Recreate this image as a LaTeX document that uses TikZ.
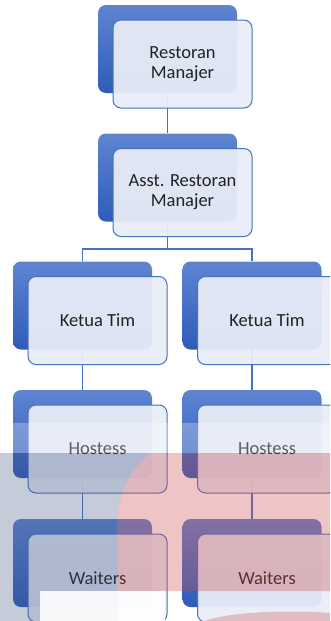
\documentclass[tikz,border=0pt]{standalone}
\usepackage{fontspec}
\setmainfont{Carlito}
\usetikzlibrary{calc}
\definecolor{darkTop}{HTML}{5F84D2}
\definecolor{darkBot}{HTML}{2E5CB9}
\definecolor{boxBlue}{HTML}{4472C4}
\definecolor{lightFill}{HTML}{E9EDF7}
\definecolor{textCol}{HTML}{222222}
\definecolor{grayOv}{HTML}{3F527D}
\definecolor{pinkOv}{HTML}{CB4C4C}
\pgfdeclarelayer{background}
\pgfsetlayers{background,main}
\begin{document}
\begin{tikzpicture}[x=1pt,y=-1pt,
  backbox/.style={rectangle, rounded corners=8pt, minimum width=139pt, minimum height=88pt, inner sep=0pt, top color=darkTop, bottom color=darkBot, draw=none},
  frontbox/.style={rectangle, rounded corners=8pt, minimum width=139pt, minimum height=88pt, inner sep=0pt, fill=lightFill, fill opacity=0.94, text opacity=1, draw=boxBlue, line width=1pt, align=center, text=textCol, font=\fontsize{18.5}{20}\selectfont},
  link/.style={draw=boxBlue, line width=1.2pt}]
\useasboundingbox (0,0) rectangle (330,621);
\clip (0,0) rectangle (330,621);
% back boxes
\node[backbox] (d1) at (167.5,49) {};
\node[backbox] (d2) at (167.5,177.5) {};
\node[backbox] (d3) at (82.5,305.5) {};
\node[backbox] (d4) at (252,305.5) {};
\node[backbox] (d5) at (82.5,434) {};
\node[backbox] (d6) at (252,434) {};
\node[backbox] (d7) at (82.5,563) {};
\node[backbox] (d8) at (252,563) {};
% front boxes
\node[frontbox] (f1) at ($(d1)+(15,15)$) {Restoran\\Manajer};
\node[frontbox] (f2) at ($(d2)+(15,15)$) {Asst. Restoran\\Manajer};
\node[frontbox] (f3) at ($(d3)+(15,15)$) {Ketua Tim};
\node[frontbox] (f4) at ($(d4)+(15,15)$) {Ketua Tim};
\node[frontbox] (f5) at ($(d5)+(15,15)$) {Hostess};
\node[frontbox] (f6) at ($(d6)+(15,15)$) {Hostess};
\node[frontbox] (f7) at ($(d7)+(15,15)$) {Waiters};
\node[frontbox] (f8) at ($(d8)+(15,15)$) {Waiters};
% connectors
\coordinate (bar) at (167.5,249);
\begin{pgfonlayer}{background}
\draw[link] (d1.south) -- (d2.north);
\draw[link] (d2.south) -- (d2.south |- bar);
\draw[link] (d3.north) -- (d3.north |- bar) -- (d4.north |- bar) -- (d4.north);
\draw[link] (d3.south) -- (d5.north);
\draw[link] (d5.south) -- (d7.north);
\draw[link] (d4.south) -- (d6.north);
\draw[link] (d6.south) -- (d8.north);
\end{pgfonlayer}
% overlay (watermark)
\fill[white, opacity=0.28] (0,423) rectangle (330,453);
\fill[grayOv, opacity=0.3] (0,453) -- (150,453) .. controls (126,472) and (117,500) .. (117,530) -- (117,621) -- (0,621) -- cycle;
\fill[pinkOv, opacity=0.33] (150,453) .. controls (126,472) and (117,500) .. (117,530) -- (117,591) -- (330,591) -- (330,453) -- cycle;
\fill[white, opacity=0.9] (40,591) rectangle (165,621);
\fill[pinkOv, opacity=0.3] (205,621) .. controls (230,611) and (300,610) .. (330,613) -- (330,621) -- cycle;
\end{tikzpicture}
\end{document}
